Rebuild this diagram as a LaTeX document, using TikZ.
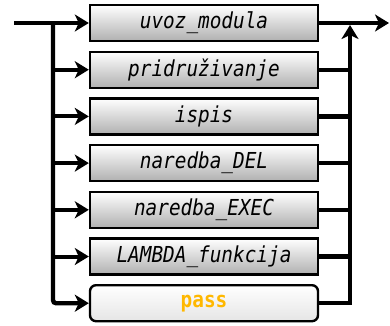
\documentclass[tikz,border=0pt]{standalone}
\usepackage{fontspec}
\newfontfamily\kodfont[FakeStretch=0.88]{DejaVu Sans Mono}
\usepackage{xcolor}
\definecolor{zuta}{RGB}{255,184,0}
\definecolor{crna}{RGB}{0,0,0}
\usepackage{tikz}
\usetikzlibrary{arrows.meta,positioning}

\begin{document}
\begin{tikzpicture}[
    x=1pt,y=-1pt,
    node distance=8.3pt,
    kutija/.style={draw=crna,line width=2.4pt,top color=white,bottom color=gray!62,
      minimum width=228pt,minimum height=36pt,inner sep=0pt,
      font=\kodfont\itshape\fontsize{22}{24}\selectfont},
    kraj/.style={draw=crna,line width=2.4pt,top color=white,bottom color=gray!20,
      rounded corners=6pt,minimum width=228pt,minimum height=36pt,inner sep=0pt,
      font=\kodfont\bfseries\fontsize{22}{24}\selectfont,text=zuta},
    linija/.style={line width=4.2pt,crna},
    seta/.style={-{Stealth[length=14pt,width=17pt,inset=4pt]},line width=4pt,crna}
    ]
    \useasboundingbox (0,0) rectangle (390,325);

    \node[kutija] (uvoz) at (204,23) {uvoz\_modula};
    \node[kutija, below=of uvoz]  (pridr)  {pridruživanje};
    \node[kutija, below=of pridr] (ispis)  {ispis};
    \node[kutija, below=of ispis] (del)    {naredba\_DEL};
    \node[kutija, below=of del]   (exec)   {naredba\_EXEC};
    \node[kutija, below=of exec]  (lambda) {LAMBDA\_funkcija};
    \node[kraj,   below=of lambda] (pass)  {pass};

    % ulaz i lijeva grana
    \coordinate (ulaz) at (14,23);
    \coordinate (lijevo) at (53,23);
    \draw[seta] (ulaz) -- (uvoz);
    \draw[seta,line width=4.4pt,rounded corners=3pt] (lijevo) -- (pass -| lijevo) -- (pass);
    \draw[seta] (pridr -| lijevo)  -- (pridr);
    \draw[seta] (ispis -| lijevo)  -- (ispis);
    \draw[seta] (del -| lijevo)    -- (del);
    \draw[seta] (exec -| lijevo)   -- (exec);
    \draw[seta] (lambda -| lijevo) -- (lambda);

    % desna grana i izlaz
    \coordinate (desno) at (350,23);
    \coordinate (izlaz) at (389,23);
    \draw[seta] (uvoz) -- (izlaz);
    \draw[seta,line width=4.4pt,shorten >=2pt] (pass) -- (pass -| desno) -- (desno);
    \draw[linija] (pridr)  -- (pridr -| desno);
    \draw[linija] (ispis)  -- (ispis -| desno);
    \draw[linija] (del)    -- (del -| desno);
    \draw[linija] (exec)   -- (exec -| desno);
    \draw[linija] (lambda) -- (lambda -| desno);
  \end{tikzpicture}
\end{document}
